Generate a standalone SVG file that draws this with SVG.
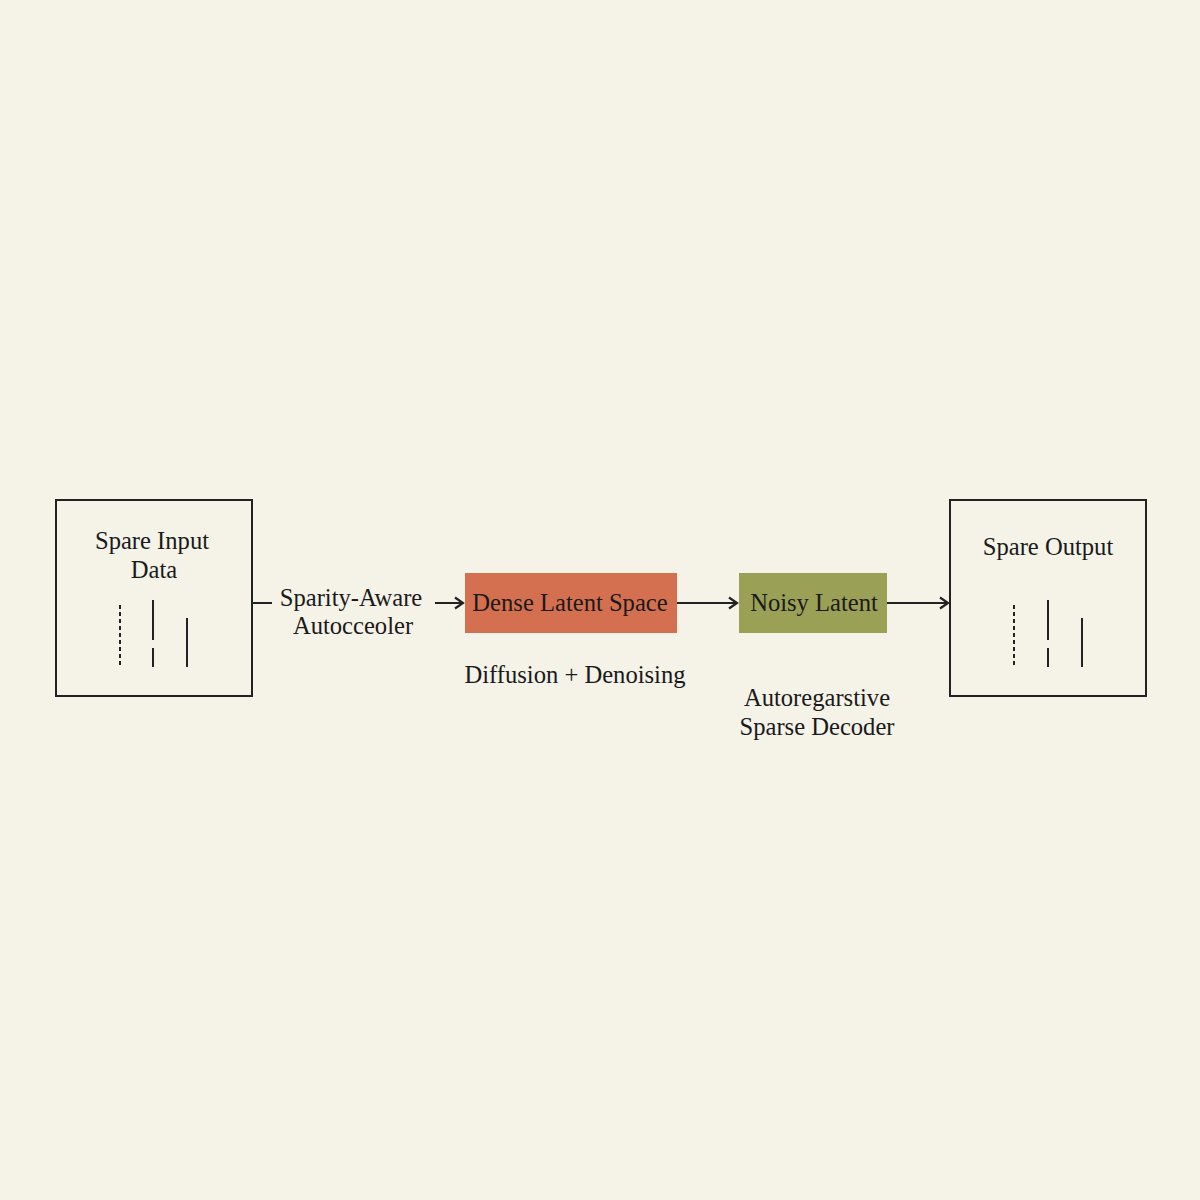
<svg xmlns="http://www.w3.org/2000/svg" width="1200" height="1200" viewBox="0 0 1200 1200">
<style>
text{font-family:"Liberation Serif","Times New Roman",serif;font-size:24.6px;fill:#1a1a1a;text-anchor:middle}
.box{fill:none;stroke:#222;stroke-width:2}
.ln{stroke:#222;stroke-width:2;fill:none}
.dot{stroke:#222;stroke-width:2;stroke-dasharray:4 3}
.conn{stroke:#222;stroke-width:2;fill:none}
</style>
<defs>
<marker id="ah" markerWidth="14" markerHeight="14" refX="11" refY="7" orient="auto" markerUnits="userSpaceOnUse">
<path d="M3,1.5 L11,7 L3,12.5" fill="none" stroke="#222" stroke-width="2.2"/>
</marker>
</defs>
<rect width="1200" height="1200" fill="#F5F2E8"/>
<g id="input">
<rect class="box" x="56" y="500" width="196" height="196"/>
<text x="152" y="549">Spare Input</text>
<text x="154" y="578">Data</text>
<line class="dot" x1="120" y1="605" x2="120" y2="667"/>
<line class="ln" x1="153" y1="600" x2="153" y2="640"/>
<line class="ln" x1="153" y1="648" x2="153" y2="667"/>
<line class="ln" x1="187" y1="618" x2="187" y2="667"/>
</g>
<g id="encoder-label">
<text x="351" y="606">Sparity-Aware</text>
<text x="353" y="634">Autocceoler</text>
</g>
<g id="dense">
<rect x="465" y="573" width="212" height="60" fill="#D4704F"/>
<text x="570" y="611">Dense Latent Space</text>
</g>
<g id="diffusion-label">
<text x="575" y="683">Diffusion + Denoising</text>
</g>
<g id="noisy">
<rect x="739" y="573" width="148" height="60" fill="#9AA055"/>
<text x="814" y="611">Noisy Latent</text>
</g>
<g id="decoder-label">
<text x="817" y="706">Autoregarstive</text>
<text x="817" y="735">Sparse Decoder</text>
</g>
<g id="output">
<rect class="box" x="950" y="500" width="196" height="196"/>
<text x="1048" y="555">Spare Output</text>
<line class="dot" x1="1014" y1="605" x2="1014" y2="667"/>
<line class="ln" x1="1048" y1="600" x2="1048" y2="640"/>
<line class="ln" x1="1048" y1="648" x2="1048" y2="667"/>
<line class="ln" x1="1082" y1="618" x2="1082" y2="667"/>
</g>
<g id="connectors">
<line class="conn" x1="252" y1="603" x2="272" y2="603"/>
<line class="conn" x1="435" y1="603" x2="463" y2="603" marker-end="url(#ah)"/>
<line class="conn" x1="677" y1="603" x2="737" y2="603" marker-end="url(#ah)"/>
<line class="conn" x1="887" y1="603" x2="948" y2="603" marker-end="url(#ah)"/>
</g>
</svg>
